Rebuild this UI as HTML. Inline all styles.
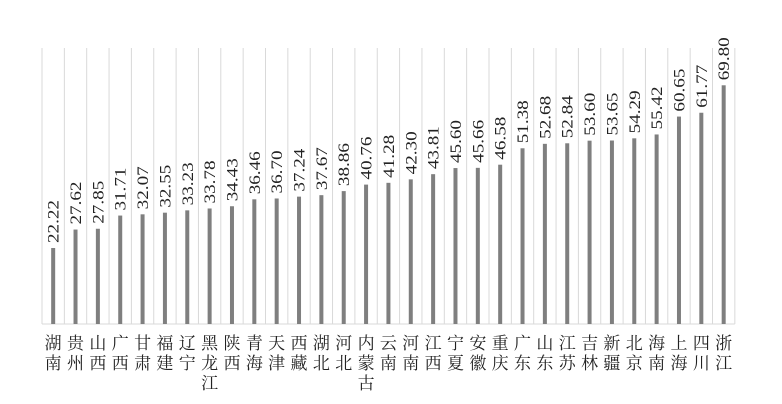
<!DOCTYPE html>
<html><head><meta charset="utf-8"><style>
html,body{margin:0;padding:0;background:#fff;width:782px;height:404px;overflow:hidden}
.v{font-family:"Liberation Serif",serif;font-size:16px;fill:#222}
.n{font-family:"Liberation Serif","Noto Serif CJK SC",serif;font-size:17px;fill:#222}
</style></head><body>
<svg id="s" width="782" height="404" xmlns="http://www.w3.org/2000/svg"></svg>
<script>
(function(){
var names=["湖南","贵州","山西","广西","甘肃","福建","辽宁","黑龙江","陕西","青海","天津","西藏","湖北","河北","内蒙古","云南","河南","江西","宁夏","安徽","重庆","广东","山东","江苏","吉林","新疆","北京","海南","上海","四川","浙江"];
var vals=["22.22","27.62","27.85","31.71","32.07","32.55","33.23","33.78","34.43","36.46","36.70","37.24","37.67","38.86","40.76","41.28","42.30","43.81","45.60","45.66","46.58","51.38","52.68","52.84","53.60","53.65","54.29","55.42","60.65","61.77","69.80"];
var x0=42,w=22.35,base=324,k=3.42,h='';
for(var i=0;i<=31;i++){var x=x0+i*w;h+='<line x1="'+x+'" y1="48" x2="'+x+'" y2="'+base+'" stroke="#d9d9d9" stroke-width="1"/>';}
h+='<line x1="'+x0+'" y1="'+base+'" x2="'+(x0+31*w)+'" y2="'+base+'" stroke="#d9d9d9" stroke-width="1"/>';
for(var i=0;i<31;i++){var cx=x0+i*w+w/2,v=parseFloat(vals[i]),ty=base-v*k;
h+='<rect x="'+(cx-2)+'" y="'+ty+'" width="4" height="'+(base-ty)+'" fill="#7f7f7f"/>';
h+='<text class="v" transform="translate('+(cx+5.5)+','+(ty-5)+') rotate(-90)" textLength="43" lengthAdjust="spacingAndGlyphs">'+vals[i]+'</text>';
for(var j=0;j<names[i].length;j++){h+='<text class="n" x="'+cx+'" y="'+(349+j*20)+'" text-anchor="middle">'+names[i][j]+'</text>';}
}
document.getElementById('s').innerHTML=h;
})();
</script>
</body></html>
